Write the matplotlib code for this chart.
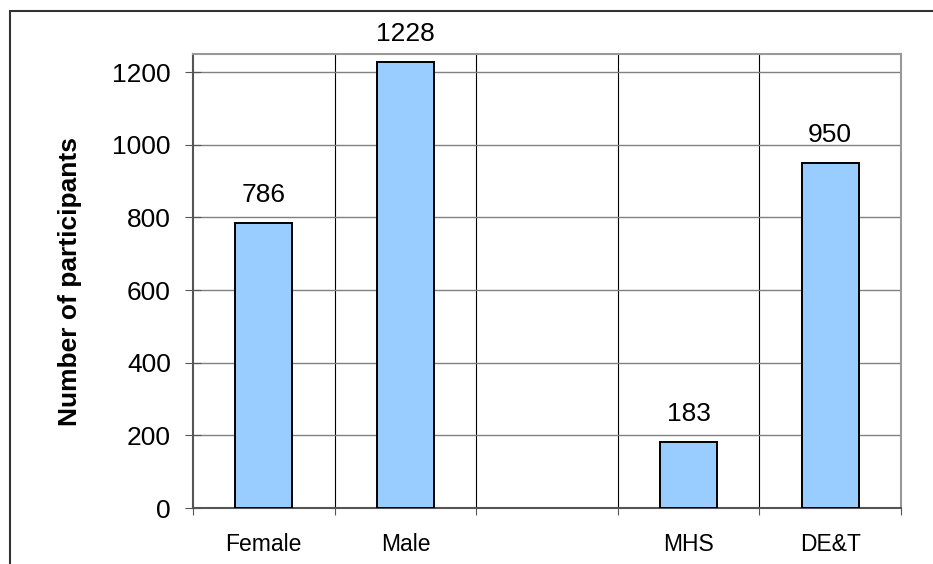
import matplotlib.pyplot as plt
from matplotlib.patches import Rectangle

# data
categories = ['Female', 'Male', '', 'MHS', 'DE&T']
values = [786, 1228, None, 183, 950]
ylabel = 'Number of participants'

plt.rcParams['font.family'] = ['Liberation Sans', 'DejaVu Sans']

fig = plt.figure(figsize=(9.33, 5.64), dpi=100)
ax = fig.add_axes([193 / 933, 56 / 564, 708 / 933, 454 / 564])

# outer frame of the chart (open at right and bottom like in the picture)
fig.patches.append(Rectangle((10 / 933, -0.1), 1.2, 1 - 11 / 564 + 0.1,
                             transform=fig.transFigure, fill=False,
                             edgecolor='#333333', linewidth=1.5))

xs = list(range(len(categories)))
for x, v in zip(xs, values):
    if v is None:
        continue
    ax.bar(x, v, width=0.4, color='#99ccff', edgecolor='black', linewidth=1.4, zorder=3)
    ax.annotate(str(v), (x, v), xytext=(0, 15), textcoords='offset points',
                ha='center', va='baseline', fontsize=19)

ax.set_xlim(-0.5, len(categories) - 0.5)
ax.set_ylim(0, 1250)

# horizontal grid
ax.set_yticks(range(0, 1201, 200))
ax.yaxis.grid(True, color='#808080', linewidth=1.0, zorder=0)
# vertical lines at the category borders
for b in range(1, len(categories)):
    ax.axvline(b - 0.5, color='black', linewidth=0.8, zorder=1)

ax.set_xticks([b - 0.5 for b in range(len(categories) + 1)])
ax.set_xticklabels([])
ax.set_xticks(xs, minor=True)
ax.set_xticklabels(categories, minor=True, fontsize=16.5)
ax.tick_params(axis='x', which='major', direction='out', length=5, color='#555555')
ax.tick_params(axis='x', which='minor', length=0, pad=18)
ax.tick_params(axis='y', direction='inout', length=12, labelsize=19, pad=10, color='#555555')

ax.set_ylabel(ylabel, fontsize=19, fontweight='bold', labelpad=22)

ax.spines['left'].set_color('#555555')
ax.spines['left'].set_linewidth(1.5)
ax.spines['bottom'].set_color('#555555')
ax.spines['bottom'].set_linewidth(1.5)
ax.spines['top'].set_color('#999999')
ax.spines['right'].set_color('#999999')
ax.spines['top'].set_linewidth(1.5)
ax.spines['right'].set_linewidth(1.5)

fig.savefig('out.png', dpi=100)
